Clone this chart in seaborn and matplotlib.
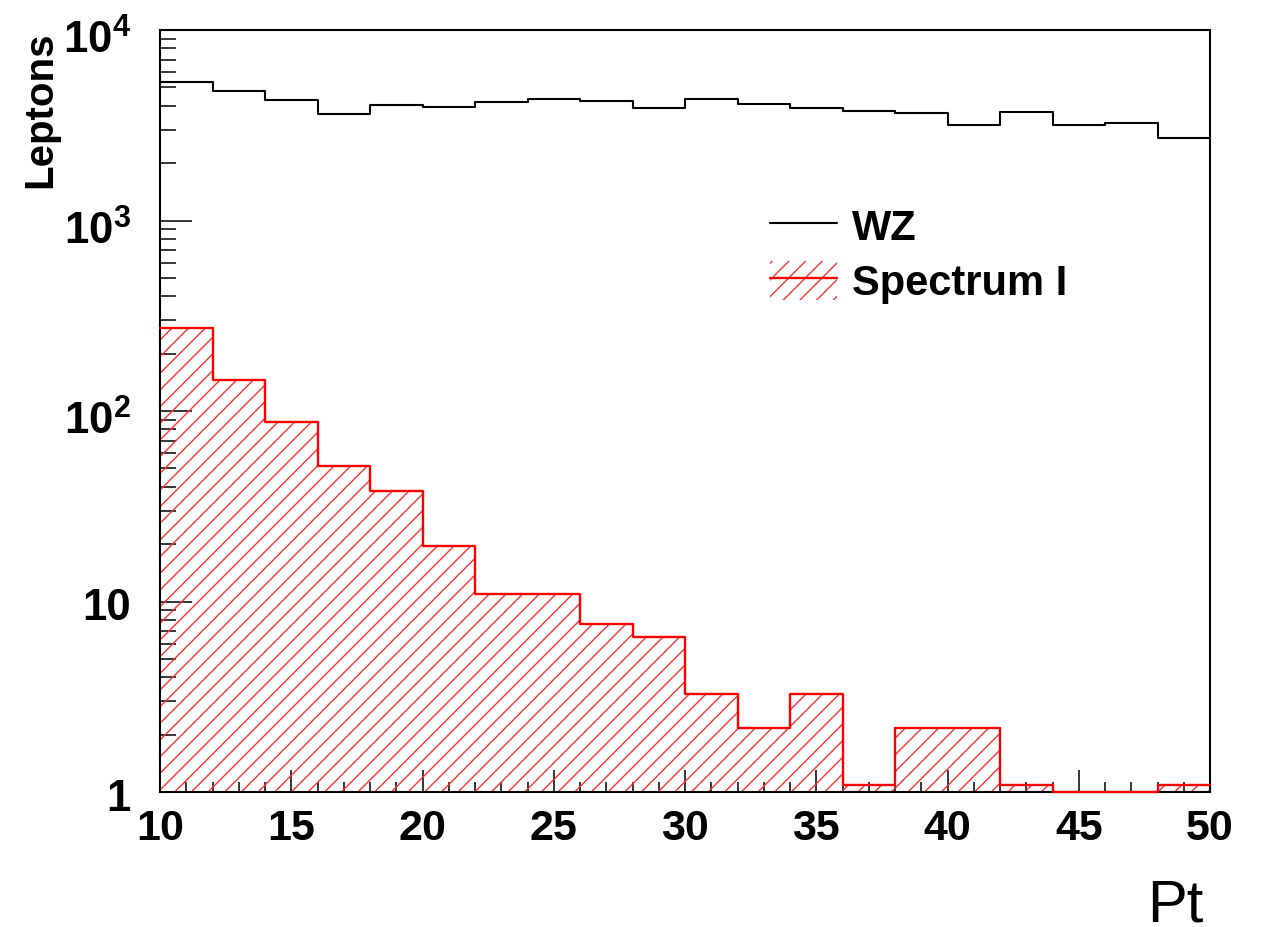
import numpy as np
import pandas as pd
import matplotlib
matplotlib.use("Agg")
import matplotlib.pyplot as plt
import matplotlib.transforms as mtransforms
import seaborn as sns
from matplotlib.lines import Line2D
from matplotlib.patches import Patch
from matplotlib.legend_handler import HandlerTuple
from matplotlib.ticker import FixedLocator, MultipleLocator, LogLocator, NullFormatter

# ---------------- data ----------------
bin_edges = [10, 12, 14, 16, 18, 20, 22, 24, 26, 28, 30,
             32, 34, 36, 38, 40, 42, 44, 46, 48, 50]
wz_counts = [5330, 4790, 4290, 3620, 4040, 3940, 4190, 4350, 4240, 3890,
             4350, 4090, 3890, 3760, 3670, 3170, 3710, 3170, 3250, 2710]
spectrum_counts = [273, 146, 87.5, 51.4, 38.0, 19.6, 10.9, 10.9, 7.6, 6.5,
                   3.27, 2.17, 3.27, 1.09, 2.17, 2.17, 1.09, 1.0, 1.0, 1.09]
series_names = ["WZ", "Spectrum I"]
x_ticks = [10, 15, 20, 25, 30, 35, 40, 45, 50]
x_tick_labels = ["10", "15", "20", "25", "30", "35", "40", "45", "50"]
y_ticks = [1, 10, 100, 1000, 10000]
y_tick_labels = ["1", "10", r"$10^{2}$", r"$10^{3}$", r"$10^{4}$"]
x_label = "Pt"
y_label = "Leptons"

bin_centers = [(a + b) / 2 for a, b in zip(bin_edges[:-1], bin_edges[1:])]

# ---------------- style ----------------
sns.set_style("white")
plt.rcParams["font.family"] = ["Liberation Sans", "DejaVu Sans"]
plt.rcParams["mathtext.fontset"] = "custom"
plt.rcParams["mathtext.rm"] = "Liberation Sans:bold"
plt.rcParams["mathtext.bf"] = "Liberation Sans:bold"
plt.rcParams["mathtext.it"] = "Liberation Sans:bold"
plt.rcParams["mathtext.default"] = "rm"
plt.rcParams["hatch.linewidth"] = 1.0
for k in ["text.color", "axes.labelcolor", "xtick.color", "ytick.color",
          "xtick.labelcolor", "ytick.labelcolor", "axes.edgecolor"]:
    plt.rcParams[k] = "black"

fig, ax = plt.subplots(figsize=(12.66, 9.27), dpi=100)
fig.subplots_adjust(left=160 / 1266, right=1210 / 1266,
                    bottom=(927 - 792) / 927, top=(927 - 30) / 927)

# hatched fill for Spectrum I
sns.histplot(x=bin_centers, weights=spectrum_counts, bins=bin_edges,
             element="step", fill=True, color="#ff3333", facecolor="none",
             edgecolor="#ff3333", hatch="//", linewidth=0, ax=ax)
# outline for Spectrum I
sns.histplot(x=bin_centers, weights=spectrum_counts, bins=bin_edges,
             element="step", fill=False, color="#ff0000", linewidth=1.7,
             clip_on=False, zorder=3, ax=ax)
# WZ outline
sns.histplot(x=bin_centers, weights=wz_counts, bins=bin_edges,
             element="step", fill=False, color="black", linewidth=1.5,
             zorder=3, ax=ax)

ax.set_yscale("log")
ax.set_xlim(bin_edges[0], bin_edges[-1])
ax.set_ylim(1, 1e4)

ax.xaxis.set_major_locator(FixedLocator(x_ticks))
ax.set_xticklabels(x_tick_labels)
ax.xaxis.set_minor_locator(MultipleLocator(1))
ax.yaxis.set_major_locator(FixedLocator(y_ticks))
ax.set_yticklabels(y_tick_labels)
ax.yaxis.set_minor_locator(LogLocator(base=10, subs=range(2, 10)))
ax.yaxis.set_minor_formatter(NullFormatter())

ax.tick_params(which="both", direction="in", top=False, right=False,
               left=True, bottom=True, color="black", labelcolor="black")
ax.tick_params(axis="y", which="major", length=23, width=1.1, pad=21, labelsize=31.5)
ax.tick_params(axis="y", which="minor", length=11.5, width=1.1)
ax.tick_params(axis="x", which="major", length=16, width=1.1, pad=12, labelsize=31)
ax.tick_params(axis="x", which="minor", length=7.5, width=1.1)

for sp in ax.spines.values():
    sp.set_linewidth(1.5)
    sp.set_color("black")

ax.set_xlabel(x_label, fontsize=43, fontweight="normal", ha="right", va="baseline")
ax.xaxis.set_label_coords((1203 - 160) / 1050, (792 - 921) / 762)
ax.set_ylabel(y_label, fontsize=29, fontweight="bold", rotation=90,
              rotation_mode="anchor", ha="right", va="center")
ax.yaxis.set_label_coords((40 - 160) / 1050, (792 - 32) / 762)

# legend
h_wz = Line2D([], [], color="black", linewidth=1.5)
h_sp = (Patch(facecolor="none", edgecolor="#ff3333", hatch="//", linewidth=0),
        Line2D([], [], color="#ff0000", linewidth=1.7))
ax.legend([h_wz, h_sp], series_names, loc="upper left",
          bbox_to_anchor=(770 / 1266, (927 - 206) / 927),
          bbox_transform=fig.transFigure, frameon=False,
          prop={"weight": "bold", "size": 30},
          handlelength=1.6, handleheight=1.05, handletextpad=0.36,
          labelspacing=0.3, borderpad=0, borderaxespad=0,
          handler_map={tuple: HandlerTuple(ndivide=1, pad=0)})

# bold tick labels, ROOT-like vertical offsets
for lab in ax.get_xticklabels():
    lab.set_fontweight("bold")
for lab in ax.get_yticklabels():
    lab.set_fontweight("bold")
    dy = 7 if "^" in lab.get_text() else 3
    lab.set_transform(lab.get_transform() +
                      mtransforms.ScaledTranslation(0, -dy / 100, fig.dpi_scale_trans))

fig.savefig("out.png", dpi=100, facecolor="white")
